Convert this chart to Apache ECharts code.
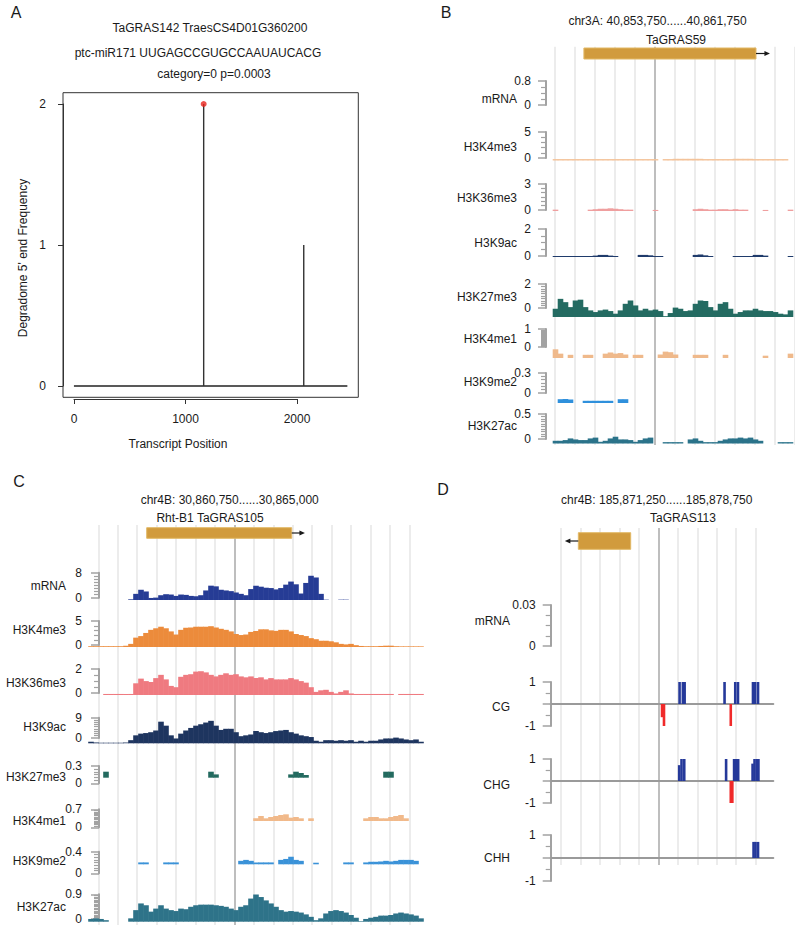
<!DOCTYPE html>
<html><head><meta charset="utf-8">
<script src="https://cdn.jsdelivr.net/npm/echarts@6.0.0/dist/echarts.min.js"></script>
<style>html,body{margin:0;padding:0;background:#fff}#c{width:795px;height:929px}</style>
</head><body><div id="c"></div>
<script>
// ================= DATA =================
// ---- Panel A (degradome t-plot) ----
const aTitleLines = ['TaGRAS142 TraesCS4D01G360200', 'ptc-miR171 UUGAGCCGUGCCAAUAUCACG', 'category=0 p=0.0003'];
const aXName = 'Transcript Position';
const aYName = "Degradome 5' end Frequency";
const transcriptLength = 2451;
const cleavagePositions = [1163, 2060];
const cleavageFrequency = [2, 1];
const aXTicks = [0, 1000, 2000];
const aYTicks = [0, 1, 2];

// ---- Panel B (JBrowse, TaGRAS59) ----
const bHeader = ['chr3A: 40,853,750......40,861,750', 'TaGRAS59'];
const bGene = {start: 1.45, end: 10.08, tip: 10.78};
const bTracks = ['mRNA', 'H3K4me3', 'H3K36me3', 'H3K9ac', 'H3K27me3', 'H3K4me1', 'H3K9me2', 'H3K27ac'];
const bScaleMax = [0.8, 5, 3, 2, 2, 1, 0.3, 0.5];
const bMRNA = [];
const bH3K4me3 = [0.25,0.25,0.25,0.25,0.25,0.25,0.25,0.25, 0.25,0.25,0.25,0.25,0.25,0.25,0.25,0.25,
  0.25,0.25,0.25,0.25,0.25,null,0.25,0.25, 0.3,0.3,0.3,0.3,0.3,0.3,0.25,0.25,
  0.25,0.25,0.25,0.25,0.3,0.3,0.3,0.3, 0.25,0.25,0.25,0.25,0.25,0.25,0.25,null];
const bH3K36me3 = [0.15,null,null,null,null,null,null,0.15, 0.2,0.25,0.25,0.3,0.25,0.2,0.15,0.15,
  null,null,null,null,0.12,null,null,null, null,null,null,null,0.2,0.25,0.2,0.15,
  0.15,0.2,0.2,0.15,0.2,0.15,0.15,null, null,null,0.12,null,null,null,null,0.15];
const bH3K9ac = [0.07,0.07,0.07,0.07,0.07,0.07,0.07,0.07, 0.1,0.15,0.15,0.1,0.07,null,null,null,
  null,0.15,0.15,0.12,0.07,0.07,null,null, null,null,null,null,0.15,0.18,0.12,0.07,
  null,null,null,null,0.07,0.07,0.07,0.07, 0.15,0.15,0.1,null,null,null,null,0.07];
const bH3K27me3 = [0.5,1.1,0.9,0.6,1.0,1.05,0.6,0.4, 0.3,0.4,0.45,0.36,0.2,0.4,0.8,1.0,
  0.7,0.4,0.5,0.4,0.45,0.36,0.05,0.24, 0.57,0.5,0.36,0.4,0.8,1.0,0.97,0.6,
  0.4,0.8,0.9,0.5,0.2,0.3,0.4,0.4, 0.5,0.4,0.36,0.36,0.3,0.2,0.16,0.4];
const bH3K4me1 = [0.3,0.15,null,0.11,null,null,0.11,0.11, null,null,0.15,0.19,0.15,0.17,0.12,null,
  0.11,0.11,null,null,null,0.12,0.22,0.2, 0.12,null,null,null,0.11,0.11,0.11,null,
  null,null,0.11,null,null,null,null,null, null,null,0.08,null,null,null,null,0.15];
const bH3K9me2 = [null,0.038,0.04,0.035,null,null,0.022,0.022, 0.022,0.022,0.022,0.022,null,0.038,0.038,null];
const bH3K27ac = [0.046,0.046,0.058,0.086,0.069,0.058,0.058,0.086, 0.1,0.029,0.046,0.086,0.115,0.069,0.069,0.058,
  0.029,0.058,0.086,0.1,null,null,0.023,0.023, 0.023,0.023,null,0.069,0.086,0.046,0.023,0.023,
  0.023,0.046,0.069,0.086,0.086,0.1,0.086,0.1, 0.069,0.046,null,null,null,0.023,0.023,0.023];

// ---- Panel C (JBrowse, Rht-B1 TaGRAS105) ----
const cHeader = ['chr4B: 30,860,750......30,865,000', 'Rht-B1 TaGRAS105'];
const cGene = {start: 2.49, end: 9.95, tip: 10.63};
const cTracks = ['mRNA', 'H3K4me3', 'H3K36me3', 'H3K9ac', 'H3K27me3', 'H3K4me1', 'H3K9me2', 'H3K27ac'];
const cScaleMax = [8, 5, 2, 9, 0.3, 0.7, 0.4, 0.9];
const cMRNA = [null,null,null,null,null,null,null,null,0.2,1.8,
  3.0,2.5,0.6,0.7,1.4,1.7,1.6,1.2,1.6,1.5,
  1.2,1.1,1.4,2.8,4.2,4.0,3.0,2.8,2.6,2.2,
  1.8,1.4,3.2,4.2,3.9,3.6,3.5,3.1,3.5,4.5,
  5.4,4.6,1.9,5.0,7.1,6.6,1.8,0.1,null,null,
  0.1,0.1];
const cH3K4me3 = [0.15,0.15,0.15,0.15,0.15,0.15,0.15,0.25,0.6,1.8,
  2.1,2.7,3.3,3.6,3.9,3.6,3.0,2.4,3.3,3.7,
  3.75,3.9,3.9,3.9,4.0,3.75,3.5,3.3,3.0,2.5,
  2.3,2.4,2.9,3.1,3.4,3.4,3.2,3.1,3.3,3.3,
  3.0,2.5,2.3,2.1,1.7,1.5,1.2,1.2,1.1,0.9,
  0.6,0.5,0.6,0.35,0.2,0.15,0.15,0.15,0.2,0.25,
  0.25,0.15,0.12,0.12,0.12,0.12,0.12];
const cH3K36me3 = [null,null,null,0.08,0.08,0.08,0.08,0.08,0.08,0.9,
  1.26,1.07,1.0,1.3,1.55,1.2,0.7,0.6,1.4,1.55,
  1.6,1.8,1.83,1.74,1.55,1.43,1.55,1.67,1.55,1.6,
  1.43,1.36,1.43,1.3,1.36,1.2,1.3,1.2,1.2,1.2,
  1.3,1.2,1.07,0.95,0.6,0.24,0.36,0.4,0.24,0.12,
  0.24,0.36,0.12,0.08,0.08,0.08,0.08,0.08,0.08,0.08,
  0.08,null,0.08,0.08,0.08,0.08,0.08];
const cH3K9ac = [0.55,0.3,0.2,0.2,0.2,0.2,0.2,0.3,1.1,2.8,
  3.4,3.6,3.9,4.5,7.6,6.2,2.8,1.7,3.4,4.5,
  5.4,6.2,6.7,7.3,7.9,6.2,4.7,5.1,5.1,3.9,
  2.5,2.8,3.1,4.3,3.9,3.6,3.9,4.3,4.5,4.7,
  3.9,3.4,2.8,2.5,2.2,0.9,0.55,1.1,1.1,0.9,
  1.1,0.9,1.1,0.55,0.9,0.55,0.9,0.9,1.35,1.7,
  1.7,2.0,1.7,1.35,1.1,1.35,0.55];
const cH3K27me3 = [null,null,null,0.154,null,null,null,null,null,null,
  null,null,null,null,null,null,null,null,null,null,
  null,null,null,null,0.154,0.085,null,null,null,null,
  null,null,null,null,null,null,null,null,null,null,
  0.085,0.154,0.12,0.07,null,null,null,null,null,null,
  null,null,null,null,null,null,null,null,null,0.154,
  0.154];
const cH3K4me1 = [null,null,null,null,null,null,null,null,null,null,
  null,null,null,null,null,null,null,null,null,null,
  null,null,null,null,null,null,null,null,null,null,
  null,null,null,0.16,0.3,0.16,0.24,0.3,0.36,0.4,
  0.2,0.24,0.16,null,0.16,null,null,null,null,null,
  null,null,null,null,null,0.16,0.24,0.24,0.16,0.16,
  0.24,0.3,0.36,0.16];
const cH3K9me2 = [null,null,null,null,null,null,null,null,null,null,
  0.06,0.06,null,null,null,0.06,0.06,0.06,null,null,
  null,null,null,null,null,null,null,null,null,null,
  0.11,0.14,0.11,0.06,0.06,0.06,0.06,null,0.14,0.17,
  0.24,0.14,0.11,null,null,0.05,null,null,null,null,
  null,0.06,0.06,null,null,0.06,0.08,0.08,0.09,0.11,
  0.09,0.11,0.14,0.14,0.14,0.11];
const cH3K27ac = [0.09,0.11,0.09,0.05,null,null,null,null,0.11,0.38,
  0.6,0.54,0.33,0.43,0.54,0.43,0.38,0.35,0.43,0.41,
  0.49,0.54,0.56,0.56,0.56,0.54,0.52,0.49,0.43,0.38,
  0.49,0.54,0.76,0.89,0.81,0.7,0.6,0.49,0.38,0.33,
  0.35,0.33,0.3,0.24,0.16,0.05,0.11,0.27,0.35,0.38,
  0.35,0.3,0.22,0.13,0.02,0.09,0.13,0.16,0.2,0.2,
  0.22,0.27,0.3,0.27,0.24,0.2,0.11];

// ---- Panel D (methylation, TaGRAS113) ----
const dHeader = ['chr4B: 185,871,250......185,878,750', 'TaGRAS113'];
const dGene = {start: 0.89, end: 3.58, tip: 0.2};
const dTracks = ['mRNA', 'CG', 'CHG', 'CHH'];
const dScaleMax = [0.03, 1, 1, 1];
const dCGSites  = [5.19, 5.29, 6.09, 6.26, 6.35, 8.40, 8.72, 8.95, 9.09, 9.86, 9.97, 10.12];
const dCGLevels = [-0.6, -1, 1, 1, 1, 1, -1, 1, 1, 1, 1, 1];
const dCHGSites  = [6.07, 6.19, 6.33, 8.48, 8.72, 8.80, 8.89, 9.0, 9.1, 9.84, 9.94, 10.06, 10.14];
const dCHGLevels = [0.72, 1, 1, 1, -1, -1, 1, 1, 1, 0.79, 1, 1, 1];
const dCHHSites  = [9.89, 9.99, 10.12];
const dCHHLevels = [0.7, 0.7, 0.7];

// ================= LAYOUT / STYLE =================
const FONT = "'Liberation Sans', Arial, Helvetica, sans-serif";
const TXT = '#1a1a1a';
const RULER = '#a2a2a2';
const LB = {bgLeft:555, unit:19.94, units:12, dark:5, bgTop:46.7, bgBottom:445,
  geneTop:48, geneH:11, dataLeft:553, binW:5, nBins:48, rulerX:546, nameX:517, labelMargin:15,
  minor:[4,5,6,4,10,20,6,10],
  colors:['#2a3f94','#f3c39a','#ef9f9f','#1f3b6b','#246b62','#efb98b','#2f90dc','#2b738a'],
  tracks:[{top:81,zero:105,base:106,nameY:99},{top:132,zero:158,base:160.5,nameY:147},
    {top:184,zero:210,base:211,nameY:198},{top:229,zero:256,base:257,nameY:243},
    {top:284,zero:308,base:317,nameY:297},{top:329,zero:347,base:358,nameY:339},
    {top:373,zero:393,base:403,nameY:382},{top:414,zero:439,base:443.5,nameY:426}]};
const LC = {bgLeft:98.3, unit:19.44, units:16, dark:7, bgTop:525, bgBottom:925,
  geneTop:527.7, geneH:10.6, dataLeft:88.5, binW:5, nBins:67, rulerX:99, nameX:66, labelMargin:17,
  minor:[8,5,4,9,6,14,8,18],
  colors:['#263c95','#ec8b3b','#ef7a80','#1e355f','#236a5f','#f1b98a','#3a92d8','#2e7389'],
  tracks:[{top:572.7,zero:597.7,base:600,nameY:586},{top:621,zero:645,base:647,nameY:630},
    {top:669,zero:693,base:695,nameY:683},{top:717.7,zero:738,base:743.3,nameY:727.3},
    {top:766,zero:783.3,base:777.7,nameY:776.7},{top:809.3,zero:827.3,base:821,nameY:821},
    {top:851.7,zero:873.3,base:864.3,nameY:860.7},{top:894.3,zero:919,base:921.7,nameY:907.3}]};
const LD = {bgLeft:561, unit:19.47, units:10, dark:5, bgTop:528, bgBottom:865,
  geneTop:532.7, geneH:16.6, rulerX:550.7, right:773.3, nameX:510, labelMargin:15,
  tracks:[{top:605,bottom:646,nameY:621},{top:682,bottom:726,nameY:707},
    {top:759,bottom:803,nameY:785},{top:835,bottom:881,nameY:858}]};

// ================= BUILD =================
const grid = [], xAxis = [], yAxis = [], series = [], graphic = [];
function g(o){ grid.push(Object.assign({show:false, containLabel:false}, o)); return grid.length - 1; }
function txt(x, y, text, opt){
  opt = opt || {};
  const a = opt.align || 'center';
  graphic.push({type:'text', x:x, y:y, rotation:opt.rotation || 0, silent:true, z:100,
    style:{text:text, fill:TXT, font:(opt.size || 12) + 'px ' + FONT, fontSize:opt.size || 12, fontFamily:FONT,
      align:a, textAlign:a, verticalAlign:'middle', textVerticalAlign:'middle'}});
}
function hiddenAxis(gi, extra){ return Object.assign({gridIndex:gi, type:'value', show:false}, extra || {}); }
function ruler(gi, min, max, interval, minorSplit, margin, extra){
  return Object.assign({gridIndex:gi, type:'value', min:min, max:max, interval:interval, position:'left',
    axisLine:{show:true, onZero:false, lineStyle:{color:RULER, width:2}},
    axisTick:{show:true, inside:false, length:8, lineStyle:{color:RULER, width:1.5}},
    minorTick:{show:true, splitNumber:minorSplit, length:5, lineStyle:{color:RULER, width:1.2}},
    splitLine:{show:false}, minorSplitLine:{show:false},
    axisLabel:{show:true, margin:margin, fontSize:12, color:TXT, fontFamily:FONT}}, extra || {});
}

// ---------- Panel A ----------
(function(){
  const L = transcriptLength;
  const fMax = Math.max.apply(null, cleavageFrequency);
  const gi = g({left:63, top:92.7, width:295.3, height:304.6, show:true, borderColor:'#333', borderWidth:1});
  xAxis.push(hiddenAxis(gi, {min:-0.04 * L, max:1.04 * L}));
  yAxis.push(hiddenAxis(gi, {min:-0.04 * fMax, max:1.04 * fMax}));
  const xi = xAxis.length - 1, yi = yAxis.length - 1;
  series.push({type:'line', xAxisIndex:xi, yAxisIndex:yi, data:[[0, 0], [L, 0]], symbol:'none', silent:true,
    lineStyle:{color:'#222', width:1.3}});
  cleavagePositions.forEach(function(p, i){
    series.push({type:'line', xAxisIndex:xi, yAxisIndex:yi, data:[[p, 0], [p, cleavageFrequency[i]]], symbol:'none',
      silent:true, lineStyle:{color:'#333', width:1.4}});
  });
  const top = cleavageFrequency.indexOf(fMax);
  series.push({type:'scatter', xAxisIndex:xi, yAxisIndex:yi, data:[[cleavagePositions[top], fMax]], symbolSize:6,
    silent:true, itemStyle:{color:'#e8231c'}, z:5});
  // detached R-style axes
  const gx = g({left:74, top:398, width:223, height:1});
  xAxis.push({gridIndex:gx, type:'value', position:'bottom', min:aXTicks[0], max:aXTicks[aXTicks.length - 1],
    interval:aXTicks[1] - aXTicks[0], axisLine:{show:true, onZero:false, lineStyle:{color:'#333', width:1}},
    axisTick:{show:true, length:5, lineStyle:{color:'#333'}}, splitLine:{show:false},
    axisLabel:{margin:14, fontSize:12, color:TXT, fontFamily:FONT, formatter:function(v){ return String(v); }}});
  yAxis.push(hiddenAxis(gx, {min:0, max:1}));
  const gy = g({left:63, top:104, width:1, height:282});
  xAxis.push(hiddenAxis(gy, {min:0, max:1}));
  yAxis.push({gridIndex:gy, type:'value', position:'left', min:aYTicks[0], max:aYTicks[aYTicks.length - 1],
    interval:aYTicks[1] - aYTicks[0], axisLine:{show:true, onZero:false, lineStyle:{color:'#333', width:1}},
    axisTick:{show:true, length:5, lineStyle:{color:'#333'}}, splitLine:{show:false},
    axisLabel:{margin:17, fontSize:12, color:TXT, fontFamily:FONT}});
  txt(16, 12, 'A', {size:16});
  txt(210, 28, aTitleLines[0]);
  txt(198, 53, aTitleLines[1]);
  txt(214, 74, aTitleLines[2]);
  txt(178, 444, aXName);
  txt(23, 258, aYName, {rotation:Math.PI / 2});
})();

// ---------- shared: background grid lines + gene model ----------
function backdrop(P, gene){
  const bg = g({left:P.bgLeft, top:P.bgTop, width:P.unit * P.units, height:P.bgBottom - P.bgTop});
  const cols = [];
  for (let i = 0; i <= P.units; i++) cols.push(i === P.dark ? '#a9a9a9' : '#e6e6e6');
  xAxis.push({gridIndex:bg, type:'value', min:0, max:P.units, interval:1,
    axisLine:{show:false}, axisTick:{show:false}, axisLabel:{show:false},
    splitLine:{show:true, showMinLine:true, showMaxLine:true, lineStyle:{color:cols, width:1.5}}});
  yAxis.push(hiddenAxis(bg, {min:0, max:1}));
  const gg = g({left:P.bgLeft, top:P.geneTop, width:P.unit * P.units, height:P.geneH});
  xAxis.push(hiddenAxis(gg, {min:0, max:P.units}));
  yAxis.push(hiddenAxis(gg, {min:0, max:1}));
  series.push({type:'custom', xAxisIndex:xAxis.length - 1, yAxisIndex:yAxis.length - 1, silent:true, clip:false, z:4,
    data:[[gene.start, gene.end, gene.tip]],
    renderItem:function(params, api){
      const a = api.coord([api.value(0), 1]);
      const b = api.coord([api.value(1), 0]);
      const fwd = api.value(2) > api.value(1);
      const ym = (a[1] + b[1]) / 2;
      const tip = api.coord([api.value(2), 0.5])[0];
      const from = fwd ? b[0] : a[0];
      const d = fwd ? 1 : -1;
      return {type:'group', children:[
        {type:'rect', shape:{x:a[0], y:a[1], width:b[0] - a[0], height:b[1] - a[1]},
          style:{fill:'#d19b3d', stroke:'#e2b865', lineWidth:1}},
        {type:'line', shape:{x1:from, y1:ym, x2:tip - d * 3, y2:ym}, style:{stroke:'#1a1a1a', lineWidth:1.2}},
        {type:'polygon', shape:{points:[[tip, ym], [tip - d * 5.5, ym - 2.6], [tip - d * 5.5, ym + 2.6]]},
          style:{fill:'#1a1a1a'}}
      ]};
    }});
}

// coverage histogram drawn through the category scale (seamless bins)
function coverageSeries(xi, yi, values, color){
  const data = [];
  values.forEach(function(v, k){ if (v !== null && v !== undefined) data.push([k, v]); });
  return {type:'custom', xAxisIndex:xi, yAxisIndex:yi, silent:true, z:3, data:data,
    renderItem:function(params, api){
      const top = api.coord([api.value(0), api.value(1)]);
      const base = api.coord([api.value(0), 0]);
      const w = api.size([1, 0])[0];
      return {type:'rect', shape:{x:top[0] - w / 2 - 0.3, y:top[1], width:w + 0.6, height:base[1] - top[1]},
        style:{fill:color}};
    }};
}

// ---------- JBrowse coverage panels (B, C) ----------
function coveragePanel(P, header, headerPos, gene, names, maxes, values){
  backdrop(P, gene);
  const bins = [];
  for (let k = 0; k < P.nBins; k++) bins.push(String(k));
  names.forEach(function(name, i){
    const T = P.tracks[i];
    const rg = g({left:P.rulerX, top:T.top, width:1, height:T.zero - T.top});
    xAxis.push(hiddenAxis(rg, {min:0, max:1}));
    yAxis.push(ruler(rg, 0, maxes[i], maxes[i], P.minor[i], P.labelMargin));
    const dg = g({left:P.dataLeft, top:T.top, width:P.binW * P.nBins, height:T.base - T.top});
    xAxis.push({gridIndex:dg, type:'category', data:bins, show:false, boundaryGap:true});
    yAxis.push(hiddenAxis(dg, {min:0, max:maxes[i]}));
    series.push(coverageSeries(xAxis.length - 1, yAxis.length - 1, values[i], P.colors[i]));
    txt(P.nameX, T.nameY, name, {align:'right'});
  });
  txt(headerPos[0][0], headerPos[0][1], header[0]);
  txt(headerPos[1][0], headerPos[1][1], header[1]);
}

coveragePanel(LB, bHeader, [[657.5, 21], [676, 40]], bGene, bTracks, bScaleMax,
  [bMRNA, bH3K4me3, bH3K36me3, bH3K9ac, bH3K27me3, bH3K4me1, bH3K9me2, bH3K27ac]);
txt(446, 12, 'B', {size:16});

coveragePanel(LC, cHeader, [[229.7, 500], [210, 518]], cGene, cTracks, cScaleMax,
  [cMRNA, cH3K4me3, cH3K36me3, cH3K9ac, cH3K27me3, cH3K4me1, cH3K9me2, cH3K27ac]);
txt(19, 481, 'C', {size:16});

// ---------- Panel D: methylation ----------
(function(){
  const P = LD;
  backdrop(P, dGene);
  const sites = [[], dCGSites, dCHGSites, dCHHSites];
  const levels = [[], dCGLevels, dCHGLevels, dCHHLevels];
  const xmin = (P.rulerX - P.bgLeft) / P.unit, xmax = (P.right - P.bgLeft) / P.unit;
  dTracks.forEach(function(name, i){
    const T = P.tracks[i];
    const gi = g({left:P.rulerX, top:T.top, width:P.right - P.rulerX, height:T.bottom - T.top});
    xAxis.push({gridIndex:gi, type:'value', min:xmin, max:xmax,
      axisLine:{show:i > 0, onZero:true, lineStyle:{color:'#9a9a9a', width:2}},
      axisTick:{show:false}, axisLabel:{show:false}, splitLine:{show:false}});
    const mx = dScaleMax[i];
    if (i === 0) {
      yAxis.push(ruler(gi, 0, mx, mx, 4, P.labelMargin));
    } else {
      yAxis.push(ruler(gi, -mx, mx, mx, 2, P.labelMargin, {axisLabel:{show:true, margin:P.labelMargin, fontSize:12,
        color:TXT, fontFamily:FONT, formatter:function(v){ return v === 0 ? '' : String(v); }}}));
    }
    const xi = xAxis.length - 1, yi = yAxis.length - 1;
    const pos = [], neg = [];
    sites[i].forEach(function(s, k){ (levels[i][k] >= 0 ? pos : neg).push([s, levels[i][k]]); });
    series.push({type:'bar', xAxisIndex:xi, yAxisIndex:yi, data:pos, barWidth:2.6, barGap:'-100%', silent:true, z:3,
      itemStyle:{color:'#25399a'}});
    series.push({type:'bar', xAxisIndex:xi, yAxisIndex:yi, data:neg, barWidth:2.6, barGap:'-100%', silent:true, z:3,
      itemStyle:{color:'#f02a2a'}});
    txt(P.nameX, T.nameY, name, {align:'right'});
  });
  txt(656.7, 500, dHeader[0]);
  txt(683, 518, dHeader[1]);
  txt(443, 489, 'D', {size:16});
})();

const chart = echarts.init(document.getElementById('c'), null, {renderer:'svg', width:795, height:929});
chart.setOption({animation:false, backgroundColor:'#ffffff', textStyle:{fontFamily:FONT},
  grid:grid, xAxis:xAxis, yAxis:yAxis, series:series, graphic:{elements:graphic}});
</script></body></html>
